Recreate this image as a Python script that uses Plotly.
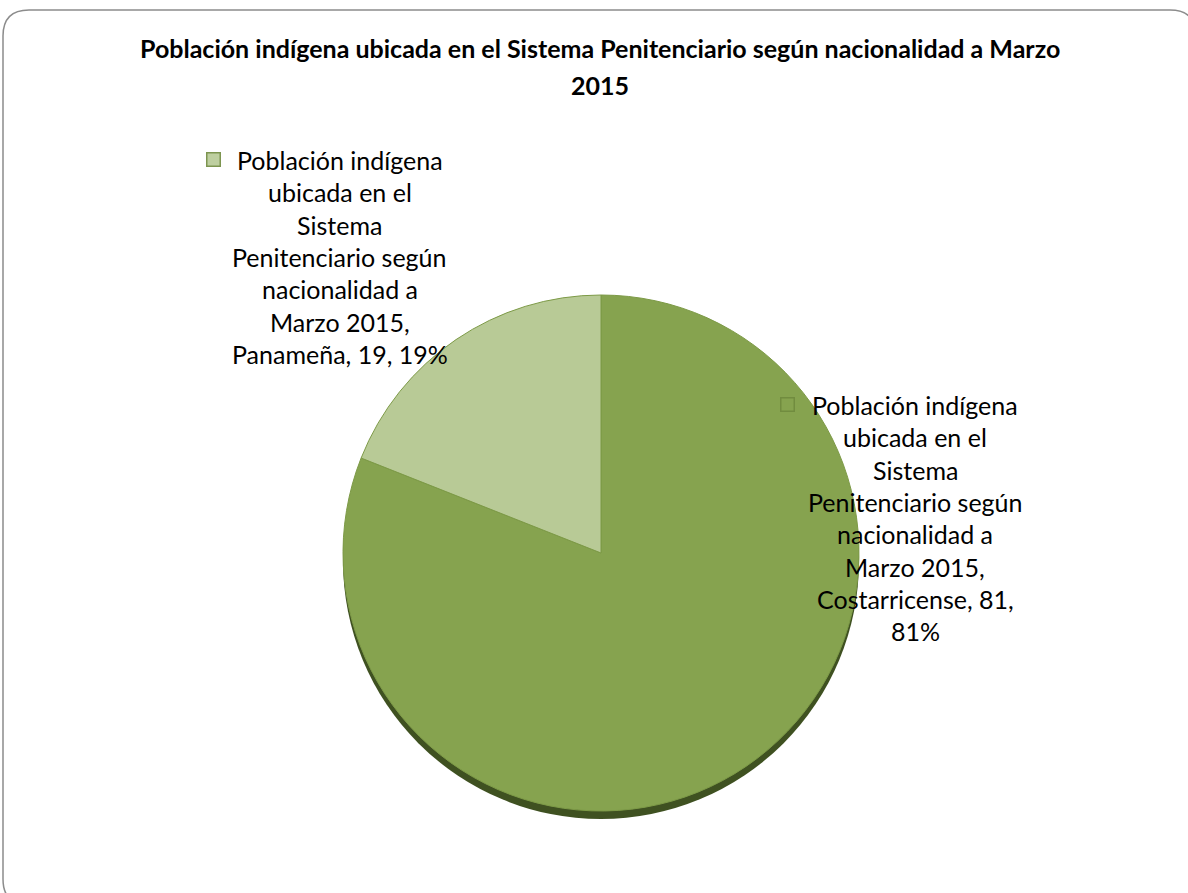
import textwrap
import plotly.graph_objects as go

# ---- data ----
series_name = "Población indígena ubicada en el Sistema Penitenciario según nacionalidad a Marzo 2015"
categories = ["Costarricense", "Panameña"]
values = [81, 19]
colors = ["#86A34F", "#B8CA96"]
title_lines = ["Población indígena ubicada en el Sistema Penitenciario según nacionalidad a Marzo", "2015"]

W, H = 1188, 893
FONT = "Lato, Carlito, Calibri, sans-serif"

def px(x):
    return x / W

def py(y):
    return 1 - y / H

# pie geometry (page pixels)
cx, cy, r = 601, 553, 258

fig = go.Figure()

# shadow pie (decorative)
shadow_dy = 8
fig.add_trace(go.Pie(
    values=[sum(values)], labels=["shadow"], sort=False,
    marker=dict(colors=["#3F5121"], line=dict(width=0)),
    textinfo="none", hoverinfo="skip", showlegend=False,
    domain=dict(x=[px(cx - r), px(cx + r)], y=[py(cy + shadow_dy + r), py(cy + shadow_dy - r)]),
))

fig.add_trace(go.Pie(
    values=values, labels=categories, sort=False, direction="clockwise", rotation=0,
    marker=dict(colors=colors, line=dict(color="#7D9A47", width=1)),
    textinfo="none", hoverinfo="label+value+percent", showlegend=False,
    domain=dict(x=[px(cx - r), px(cx + r)], y=[py(cy + r), py(cy - r)]),
))

annotations = []
# title
for i, line in enumerate(title_lines):
    annotations.append(dict(
        text="<b>" + line + "</b>", x=px(600), y=py(48 + 37 * i), xref="paper", yref="paper",
        showarrow=False, xanchor="center", yanchor="middle",
        font=dict(family=FONT, size=25, color="#000000"),
    ))

total = sum(values)
# label layout: (text center x, first line y, key x, key y)
label_pos = {"Panameña": (340, 160, 213, 159), "Costarricense": (915, 405, 787, 405)}
line_h = 32.3
for cat, val, col in zip(categories, values, colors):
    pct = round(100 * val / total)
    full = f"{series_name}, {cat}, {val}, {pct}%"
    lines = textwrap.wrap(full, width=19)
    tx, ty, kx, ky = label_pos[cat]
    for j, ln in enumerate(lines):
        annotations.append(dict(
            text=ln, x=px(tx), y=py(ty + line_h * j), xref="paper", yref="paper",
            showarrow=False, xanchor="center", yanchor="middle",
            font=dict(family=FONT, size=25, color="#000000"),
        ))
    annotations.append(dict(
        text=" ", x=px(kx), y=py(ky), xref="paper", yref="paper", showarrow=False,
        xanchor="center", yanchor="middle", width=12, height=12,
        bgcolor=col, bordercolor="#6F8A3E", borderwidth=1.5, borderpad=0,
        font=dict(size=4), opacity=0.9,
    ))

# rounded chart border
x0, y0, x1, y1 = 3, 10, 1196, 905
rad = 26
path = (f"M {px(x0 + rad)},{py(y0)} L {px(x1 - rad)},{py(y0)} Q {px(x1)},{py(y0)} {px(x1)},{py(y0 + rad)} "
        f"L {px(x1)},{py(y1 - rad)} Q {px(x1)},{py(y1)} {px(x1 - rad)},{py(y1)} "
        f"L {px(x0 + rad)},{py(y1)} Q {px(x0)},{py(y1)} {px(x0)},{py(y1 - rad)} "
        f"L {px(x0)},{py(y0 + rad)} Q {px(x0)},{py(y0)} {px(x0 + rad)},{py(y0)} Z")

fig.update_layout(
    width=W, height=H, margin=dict(l=0, r=0, t=0, b=0),
    paper_bgcolor="white", plot_bgcolor="white",
    annotations=annotations,
    shapes=[dict(type="path", path=path, xref="paper", yref="paper",
                 line=dict(color="#8C8C8C", width=1.5), fillcolor="rgba(0,0,0,0)", layer="below")],
)

fig.write_html("out.html", config={"displayModeBar": False},
               post_script="document.body.style.margin='0';document.body.style.overflow='hidden';")
